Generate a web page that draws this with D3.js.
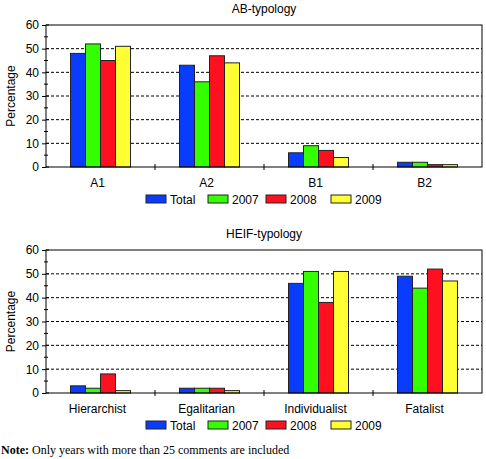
<!DOCTYPE html>
<html><head><meta charset="utf-8">
<script src="https://cdn.jsdelivr.net/npm/d3@7"></script>
<style>body{margin:0;background:#fff}text{font-family:"Liberation Sans",Arial,sans-serif}</style>
</head><body>
<svg id="chart" width="486" height="459"></svg>
<script>
var series = ['Total', '2007', '2008', '2009']
var colors = ['#0a3cff', '#33ff00', '#ff1020', '#ffff33']
var abCategories = ['A1', 'A2', 'B1', 'B2']
var abValues = [[48, 52, 45, 51], [43, 36, 47, 44], [6, 9, 7, 4], [2, 2, 1, 1]]
var heifCategories = ['Hierarchist', 'Egalitarian', 'Individualist', 'Fatalist']
var heifValues = [[3, 2, 8, 1], [2, 2, 2, 1], [46, 51, 38, 51], [49, 44, 52, 47]]
var yTicks = [0, 10, 20, 30, 40, 50, 60]

var svg = d3.select('#chart')

function panel(title, cats, vals, top, bottom) {
    var left = 46, right = 482
    var x = d3.scaleBand().domain(cats).range([left, right])
    var inner = d3.scaleBand().domain(series).range([0, 60])
    var y = d3.scaleLinear().domain([0, 60]).range([bottom, top])
    var g = svg.append('g')
    g.append('text').attr('x', 264).attr('y', top - 12).attr('text-anchor', 'middle')
        .attr('font-size', 12).text(title)
    // gridlines
    g.selectAll('.grid').data(yTicks.slice(1, 6)).enter().append('line')
        .attr('x1', left).attr('x2', right).attr('y1', d => y(d)).attr('y2', d => y(d))
        .attr('stroke', '#000').attr('stroke-dasharray', '3,2')
    // bars
    cats.forEach(function(c, i) {
        var off = x(c) + (x.bandwidth() - 60) / 2
        g.selectAll('.b' + i).data(vals[i]).enter().append('rect')
            .attr('x', (d, j) => off + inner(series[j]))
            .attr('y', d => y(d))
            .attr('width', inner.bandwidth())
            .attr('height', d => y(0) - y(d))
            .attr('fill', (d, j) => colors[j])
            .attr('stroke', '#222').attr('stroke-width', 1)
    })
    // frame
    g.append('rect').attr('x', left).attr('y', top).attr('width', right - left).attr('height', bottom - top)
        .attr('fill', 'none').attr('stroke', '#000')
    // y axis
    var ya = g.append('g').attr('transform', 'translate(' + left + ',0)')
        .call(d3.axisLeft(y).tickValues(yTicks).tickSize(4).tickPadding(3))
    ya.select('.domain').remove()
    ya.selectAll('text').attr('font-size', 12).attr('font-family', '"Liberation Sans",Arial,sans-serif')
    g.selectAll('.minor').data(d3.range(5, 60, 10)).enter().append('line')
        .attr('x1', left - 2).attr('x2', left + 2).attr('y1', d => y(d)).attr('y2', d => y(d)).attr('stroke', '#000')
    g.selectAll('.tick2').data(yTicks).enter().append('line')
        .attr('x1', left).attr('x2', left + 3).attr('y1', d => y(d)).attr('y2', d => y(d)).attr('stroke', '#000')
    // x ticks between groups
    g.selectAll('.xt').data(cats.slice(1)).enter().append('line')
        .attr('x1', d => x(d)).attr('x2', d => x(d)).attr('y1', bottom - 3).attr('y2', bottom + 3).attr('stroke', '#000')
    g.selectAll('.xl').data(cats).enter().append('text')
        .attr('x', d => x(d) + x.bandwidth() / 2 - 3).attr('y', bottom + 20)
        .attr('text-anchor', 'middle').attr('font-size', 12).text(d => d)
    g.append('text').attr('transform', 'translate(15,' + (top + bottom) / 2 + ') rotate(-90)')
        .attr('text-anchor', 'middle').attr('font-size', 12).text('Percentage')
    // legend
    var lx = [146, 208, 266, 331]
    series.forEach(function(s, j) {
        g.append('rect').attr('x', lx[j]).attr('y', bottom + 28).attr('width', 20).attr('height', 8)
            .attr('fill', colors[j]).attr('stroke', '#222')
        g.append('text').attr('x', lx[j] + 24).attr('y', bottom + 37).attr('font-size', 12).text(s)
    })
}

panel('AB-typology', abCategories, abValues, 25, 167)
panel('HEIF-typology', heifCategories, heifValues, 250, 393)

var note = svg.append('text').attr('x', 1).attr('y', 454)
    .attr('font-family', '"Liberation Serif",serif').attr('font-size', 12)
note.append('tspan').attr('font-weight', 'bold').attr('font-family', '"Liberation Serif",serif').text('Note:')
note.append('tspan').attr('font-family', '"Liberation Serif",serif').text(' Only years with more than 25 comments are included')
</script>
</body></html>
